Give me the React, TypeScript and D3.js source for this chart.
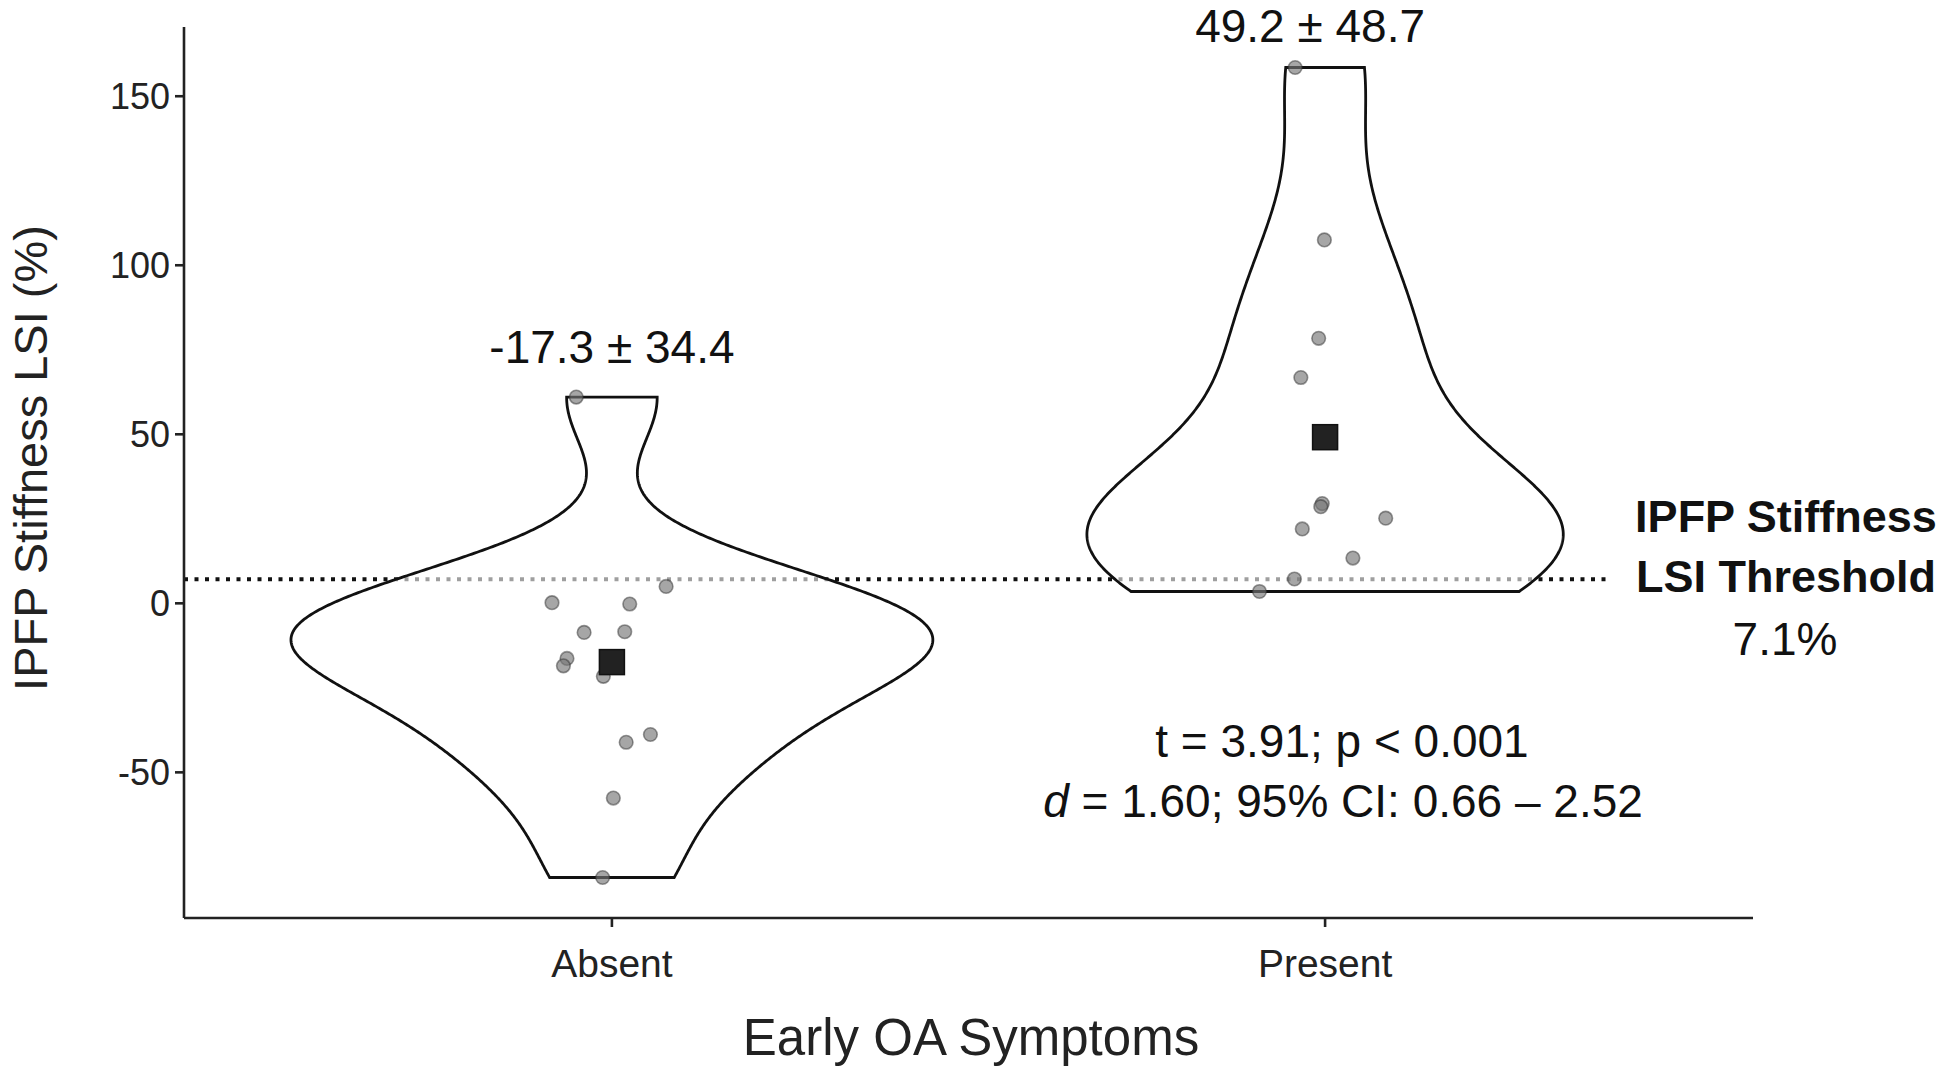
import React from "react";
import * as d3 from "d3";

// values
const categories = ["Absent", "Present"];
const absentValues = [61.0, 0.2, -0.2, 5.0, -8.6, -8.4, -16.3, -18.5, -21.6, -38.8, -41.1, -57.6, -81.1];
const absentJitter = [-0.05, -0.084, 0.025, 0.076, -0.039, 0.018, -0.063, -0.068, -0.012, 0.054, 0.02, 0.002, -0.013];
const presentValues = [158.5, 107.5, 78.4, 66.8, 29.5, 28.6, 25.2, 22.0, 13.4, 7.2, 3.5];
const presentJitter = [-0.042, -0.001, -0.009, -0.034, -0.004, -0.006, 0.085, -0.032, 0.039, -0.043, -0.092];
const meanLabels = ["-17.3 ± 34.4", "49.2 ± 48.7"];
const meanLabelAt = [71, 166];
const yTicks = [-50, 0, 50, 100, 150];
const threshold = 7.1;

const width = 1950;
const height = 1073;
const margin = { top: 27, right: 197, bottom: 155, left: 184 };

const font = "'Liberation Sans', Arial, sans-serif";

// R's bw.nrd0
function bwNrd0(v: number[]) {
  const s = [...v].sort(d3.ascending);
  const sd = d3.deviation(s) as number;
  const iqr = (d3.quantileSorted(s, 0.75) as number) - (d3.quantileSorted(s, 0.25) as number);
  const lo = Math.min(sd, iqr / 1.34);
  return 0.9 * lo * Math.pow(s.length, -0.2);
}

function density(v: number[]) {
  const bw = bwNrd0(v);
  const lo = d3.min(v) as number;
  const hi = d3.max(v) as number;
  const n = 512;
  return d3.range(n).map((i) => {
    const y = lo + ((hi - lo) * i) / (n - 1);
    const d =
      d3.sum(v, (x) => Math.exp(-0.5 * ((y - x) / bw) ** 2)) /
      (v.length * bw * Math.sqrt(2 * Math.PI));
    return { y, d };
  });
}

export default function App() {
  const groups = [
    { name: categories[0], values: absentValues, jitter: absentJitter },
    { name: categories[1], values: presentValues, jitter: presentJitter },
  ];

  const all = [...absentValues, ...presentValues];
  const [dmin, dmax] = d3.extent(all) as [number, number];
  const pad = (dmax - dmin) * 0.05;

  const x = d3
    .scalePoint<string>()
    .domain(categories)
    .range([margin.left, width - margin.right])
    .padding(0.6);

  const y = d3
    .scaleLinear()
    .domain([dmin - pad, dmax + pad])
    .range([height - margin.bottom, margin.top]);

  const dens = groups.map((g) => density(g.values));
  const maxD = d3.max(dens.flat(), (p) => p.d) as number;
  const halfW = d3.scaleLinear().domain([0, maxD]).range([0, 0.45 * x.step()]);

  const axisY = height - margin.bottom;
  const lineEnd = (x(categories[1]) as number) + 0.4 * x.step();

  return (
    <svg
      width={width}
      height={height}
      style={{ position: "absolute", left: 0, top: 0, background: "white" }}
    >
      {/* threshold */}
      <line
        x1={margin.left}
        x2={lineEnd}
        y1={y(threshold)}
        y2={y(threshold)}
        stroke="#111"
        strokeWidth={4}
        strokeDasharray="4 6.5"
      />

      {/* violins */}
      {groups.map((g, i) => {
        const cx = x(g.name) as number;
        const area = d3
          .area<{ y: number; d: number }>()
          .y((p) => y(p.y))
          .x0((p) => cx - halfW(p.d))
          .x1((p) => cx + halfW(p.d));
        return (
          <path
            key={g.name}
            d={area(dens[i]) as string}
            fill="white"
            fillOpacity={0.6}
            stroke="#111"
            strokeWidth={2.8}
          />
        );
      })}

      {/* points */}
      {groups.map((g) =>
        g.values.map((v, j) => (
          <circle
            key={g.name + j}
            cx={(x(g.name) as number) + g.jitter[j] * x.step()}
            cy={y(v)}
            r={6.8}
            fill="#777"
            fillOpacity={0.65}
            stroke="#333"
            strokeOpacity={0.5}
            strokeWidth={1.6}
          />
        ))
      )}

      {/* means */}
      {groups.map((g) => {
        const m = d3.mean(g.values) as number;
        return (
          <rect
            key={g.name + "m"}
            x={(x(g.name) as number) - 12.5}
            y={y(m) - 12.5}
            width={25}
            height={25}
            fill="#222"
            stroke="#111"
            strokeWidth={1.5}
          />
        );
      })}

      {/* mean labels */}
      {groups.map((g, i) => (
        <text
          key={g.name + "l"}
          x={(x(g.name) as number) + (i === 1 ? -15 : 0)}
          y={y(meanLabelAt[i])}
          textAnchor="middle"
          fontFamily={font}
          fontSize={46}
          fill="#111"
        >
          {meanLabels[i]}
        </text>
      ))}

      {/* axes */}
      <line x1={margin.left} x2={margin.left} y1={margin.top} y2={axisY} stroke="#222" strokeWidth={2.6} />
      <line x1={margin.left} x2={width - margin.right} y1={axisY} y2={axisY} stroke="#222" strokeWidth={2.6} />
      {yTicks.map((t) => (
        <g key={t} transform={`translate(${margin.left},${y(t)})`}>
          <line x1={-9} x2={0} stroke="#222" strokeWidth={2.6} />
          <text x={-14} dy="0.35em" textAnchor="end" fontFamily={font} fontSize={36} fill="#222">
            {t}
          </text>
        </g>
      ))}
      {categories.map((c) => (
        <g key={c} transform={`translate(${x(c)},${axisY})`}>
          <line y1={0} y2={9} stroke="#222" strokeWidth={2.6} />
          <text y={59} textAnchor="middle" fontFamily={font} fontSize={39} fill="#222">
            {c}
          </text>
        </g>
      ))}

      <text x={971} y={1055} textAnchor="middle" fontFamily={font} fontSize={51} fill="#222">
        Early OA Symptoms
      </text>
      <text
        transform={`translate(${47},${458}) rotate(-90)`}
        textAnchor="middle"
        fontFamily={font}
        fontSize={47}
        fill="#222"
      >
        IPFP Stiffness LSI (%)
      </text>

      {/* threshold label */}
      <g fontFamily={font} textAnchor="middle" fill="#111">
        <text x={1786} y={532} fontSize={45} fontWeight="bold">IPFP Stiffness</text>
        <text x={1786} y={592} fontSize={45} fontWeight="bold">LSI Threshold</text>
        <text x={1785} y={655} fontSize={46}>{threshold}%</text>
      </g>

      {/* stats */}
      <g fontFamily={font} textAnchor="middle" fill="#111" fontSize={46}>
        <text x={1342} y={757}>t = 3.91; p &lt; 0.001</text>
        <text x={1343} y={817}>
          <tspan fontStyle="italic">d</tspan> = 1.60; 95% CI: 0.66 – 2.52
        </text>
      </g>
    </svg>
  );
}
